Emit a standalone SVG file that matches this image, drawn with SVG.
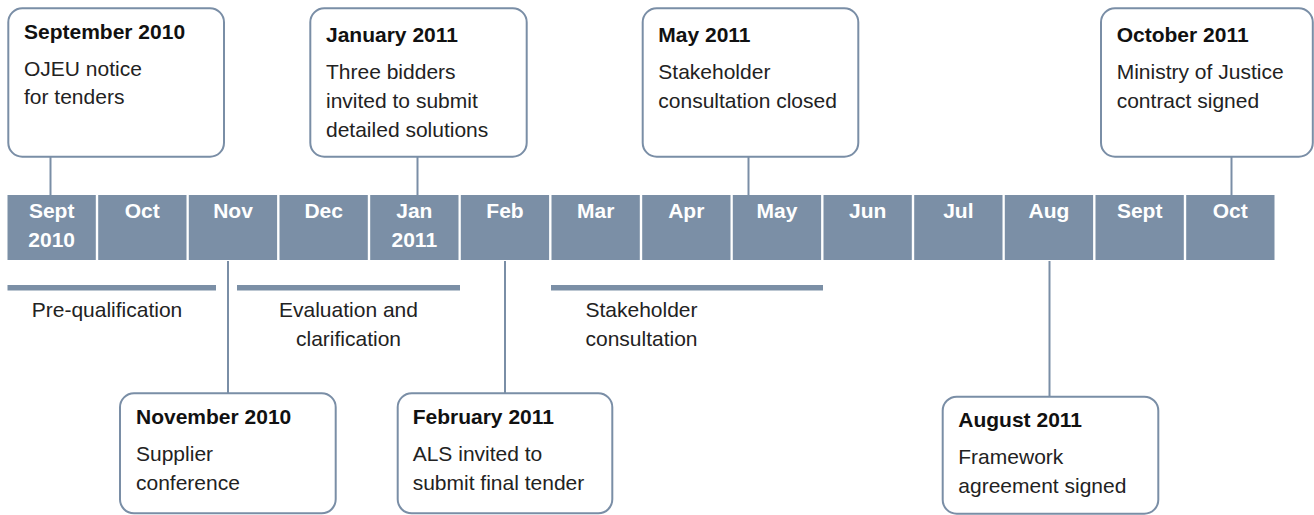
<svg xmlns="http://www.w3.org/2000/svg" width="1314" height="515" viewBox="0 0 1314 515">
<style>
.box{fill:#fff;stroke:#7a8ea6;stroke-width:2}
.cell{fill:#7b8fa6}
.ml{font-family:"Liberation Sans",Arial,sans-serif;font-size:21px;font-weight:bold;fill:#fff;text-anchor:middle}
.t{font-family:"Liberation Sans",Arial,sans-serif;font-size:21px;font-weight:bold;fill:#111}
.b{font-family:"Liberation Sans",Arial,sans-serif;font-size:21px;fill:#222}
.bc{font-family:"Liberation Sans",Arial,sans-serif;font-size:21px;fill:#222;text-anchor:middle}
.ln{stroke:#7a8ea6;stroke-width:2;fill:none}
.bar{fill:#7b8fa6}
</style>
<rect width="1314" height="515" fill="#fff"/>
<g id="connectors">
<line class="ln" x1="50.5" y1="157" x2="50.5" y2="195"/>
<line class="ln" x1="417.5" y1="157" x2="417.5" y2="195"/>
<line class="ln" x1="748.5" y1="157" x2="748.5" y2="195"/>
<line class="ln" x1="1231.5" y1="157" x2="1231.5" y2="195"/>
<line class="ln" x1="228" y1="261" x2="228" y2="393"/>
<line class="ln" x1="505" y1="261" x2="505" y2="397"/>
<line class="ln" x1="1049.5" y1="261" x2="1049.5" y2="397"/>
</g>
<g id="timeline">
<rect class="cell" x="7.5" y="195" width="88.3" height="65"/>
<rect class="cell" x="98.2" y="195" width="88.3" height="65"/>
<rect class="cell" x="188.8" y="195" width="88.3" height="65"/>
<rect class="cell" x="279.5" y="195" width="88.3" height="65"/>
<rect class="cell" x="370.2" y="195" width="88.3" height="65"/>
<rect class="cell" x="460.8" y="195" width="88.3" height="65"/>
<rect class="cell" x="551.5" y="195" width="88.3" height="65"/>
<rect class="cell" x="642.2" y="195" width="88.3" height="65"/>
<rect class="cell" x="732.8" y="195" width="88.3" height="65"/>
<rect class="cell" x="823.5" y="195" width="88.3" height="65"/>
<rect class="cell" x="914.2" y="195" width="88.3" height="65"/>
<rect class="cell" x="1004.8" y="195" width="88.3" height="65"/>
<rect class="cell" x="1095.5" y="195" width="88.3" height="65"/>
<rect class="cell" x="1186.2" y="195" width="88.3" height="65"/>
<text class="ml" x="51.7" y="218">Sept</text>
<text class="ml" x="51.7" y="247">2010</text>
<text class="ml" x="142.3" y="218">Oct</text>
<text class="ml" x="233" y="218">Nov</text>
<text class="ml" x="323.7" y="218">Dec</text>
<text class="ml" x="414.3" y="218">Jan</text>
<text class="ml" x="414.3" y="247">2011</text>
<text class="ml" x="505" y="218">Feb</text>
<text class="ml" x="595.7" y="218">Mar</text>
<text class="ml" x="686.3" y="218">Apr</text>
<text class="ml" x="777" y="218">May</text>
<text class="ml" x="867.7" y="218">Jun</text>
<text class="ml" x="958.3" y="218">Jul</text>
<text class="ml" x="1049" y="218">Aug</text>
<text class="ml" x="1139.7" y="218">Sept</text>
<text class="ml" x="1230.3" y="218">Oct</text>
</g>
<g id="phase-prequalification">
<rect class="bar" x="7.5" y="285" width="208.5" height="5.5"/>
<text class="bc" x="107" y="316.5">Pre-qualification</text>
</g>
<g id="phase-evaluation">
<rect class="bar" x="237" y="285" width="223" height="5.5"/>
<text class="bc" x="348.5" y="316.5">Evaluation and</text>
<text class="bc" x="348.5" y="346">clarification</text>
</g>
<g id="phase-stakeholder">
<rect class="bar" x="551" y="285" width="272" height="5.5"/>
<text class="bc" x="641.5" y="316.5">Stakeholder</text>
<text class="bc" x="641.5" y="346">consultation</text>
</g>
<g id="sep2010">
<rect class="box" x="8.3" y="8.3" width="215.7" height="148.4" rx="14"/>
<text class="t" x="24" y="39">September 2010</text>
<text class="b" x="24" y="76">OJEU notice</text>
<text class="b" x="24" y="104">for tenders</text>
</g>
<g id="jan2011">
<rect class="box" x="310.3" y="8.3" width="216.4" height="148.4" rx="14"/>
<text class="t" x="326" y="41.7">January 2011</text>
<text class="b" x="326" y="78.7">Three bidders</text>
<text class="b" x="326" y="107.7">invited to submit</text>
<text class="b" x="326" y="136.7">detailed solutions</text>
</g>
<g id="may2011">
<rect class="box" x="642.7" y="8.3" width="215.6" height="148.4" rx="14"/>
<text class="t" x="658.3" y="42.3">May 2011</text>
<text class="b" x="658.3" y="79">Stakeholder</text>
<text class="b" x="658.3" y="107.7">consultation closed</text>
</g>
<g id="oct2011">
<rect class="box" x="1101" y="8.3" width="211.8" height="148.4" rx="14"/>
<text class="t" x="1116.7" y="42.3">October 2011</text>
<text class="b" x="1116.7" y="79">Ministry of Justice</text>
<text class="b" x="1116.7" y="107.7">contract signed</text>
</g>
<g id="nov2010">
<rect class="box" x="120" y="393.3" width="215.7" height="120" rx="14"/>
<text class="t" x="136" y="424">November 2010</text>
<text class="b" x="136" y="461">Supplier</text>
<text class="b" x="136" y="490">conference</text>
</g>
<g id="feb2011">
<rect class="box" x="397.7" y="393.3" width="214.6" height="120" rx="14"/>
<text class="t" x="412.7" y="424">February 2011</text>
<text class="b" x="412.7" y="461">ALS invited to</text>
<text class="b" x="412.7" y="490">submit final tender</text>
</g>
<g id="aug2011">
<rect class="box" x="942.7" y="396.7" width="215.6" height="117" rx="14"/>
<text class="t" x="958.3" y="426.7">August 2011</text>
<text class="b" x="958.3" y="464.3">Framework</text>
<text class="b" x="958.3" y="492.7">agreement signed</text>
</g>
</svg>
